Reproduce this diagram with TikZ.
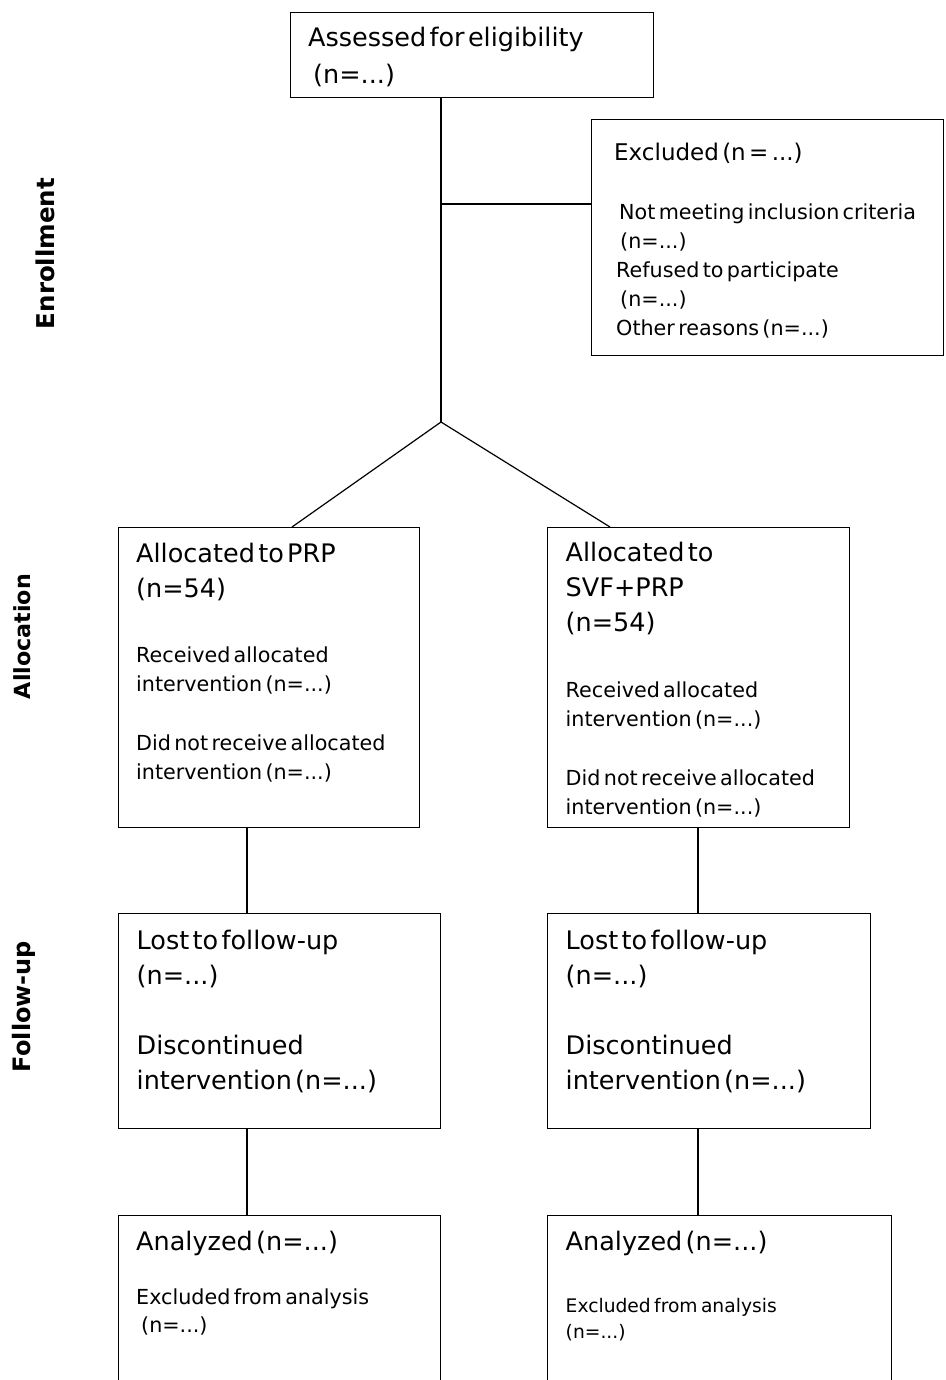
\documentclass[tikz,border=0pt]{standalone}
\usepackage{fontspec}
\setmainfont[WordSpace=1.4]{DejaVu Sans}
\usetikzlibrary{calc}
\newcommand\LT{\fontsize{25.5}{35}\selectfont}
\newcommand\ST{\fontsize{20.7}{29}\selectfont}
\begin{document}
\begin{tikzpicture}[x=1pt,y=-1pt,
  box/.style={draw, line width=1.2pt, inner sep=0pt, anchor=north west},
  txt/.style={anchor=base west, inner sep=0pt, text width=340pt, align=left},
  side/.style={font=\fontsize{#1}{26}\selectfont\bfseries, rotate=90, inner sep=0pt},
  conn/.style={line width=1.2pt}]
\path[use as bounding box] (0,0) rectangle (945,1380);
\clip (0,0) rectangle (945,1380);

% boxes
\node[box, minimum width=363pt, minimum height=85pt] (assess) at (290,12) {};
\node[box, minimum width=352pt, minimum height=236pt] (excl) at (591,119) {};
\node[box, minimum width=301pt, minimum height=300pt] (prp) at (118,527) {};
\node[box, minimum width=302pt, minimum height=300pt] (svf) at (547,527) {};
\node[box, minimum width=322pt, minimum height=215pt] (fl) at (118,913) {};
\node[box, minimum width=323pt, minimum height=215pt] (fr) at (547,913) {};
\node[box, minimum width=322pt, minimum height=200pt] (al) at (118,1215) {};
\node[box, minimum width=344pt, minimum height=200pt] (ar) at (547,1215) {};

% texts
\node[txt] (assessT) at (308,46.7) {\LT\baselineskip=36.5pt Assessed for eligibility\par\hspace*{5pt}(n=...)\par};
\node[txt] (exclT) at (614,160.5) {\fontsize{23}{29}\selectfont Excluded (n = ...)\par\ST\vskip 30.5pt
  \hspace*{5pt}Not meeting inclusion criteria\par
  \hspace*{6pt}(n=...)\par
  \hspace*{2pt}Refused to participate\par
  \hspace*{6pt}(n=...)\par
  \hspace*{2pt}Other reasons (n=...)\par};
\node[txt] (prpT) at (136,562.7) {\LT Allocated to PRP\par (n=54)\par\ST\vskip 36pt
  Received allocated\par intervention (n=...)\par\vskip 30pt
  Did not receive allocated\par intervention (n=...)\par};
\node[txt] (svfT) at (565.5,561.7) {\LT Allocated to\par SVF+PRP\par (n=54)\par\ST\vskip 37pt
  Received allocated\par intervention (n=...)\par\vskip 29.5pt
  Did not receive allocated\par intervention (n=...)\par};
\node[txt] (flT) at (136.5,949) {\LT Lost to follow-up\par (n=...)\par\vskip 35pt
  Discontinued\par intervention (n=...)\par};
\node[txt] (frT) at (565.5,949) {\LT Lost to follow-up\par (n=...)\par\vskip 35pt
  Discontinued\par intervention (n=...)\par};
\node[txt] (alT) at (136,1250) {\LT Analyzed (n=...)\par\ST\vskip 25pt
  Excluded from analysis\par \vskip -1pt\hspace*{5pt}(n=...)\par};
\node[txt] (arT) at (565.5,1250) {\LT Analyzed (n=...)\par\fontsize{18.7}{25.6}\selectfont\vskip 37pt
  Excluded from analysis\par (n=...)\par};

% side labels
\node[side=24.5] (enr) at (45,253.5) {Enrollment};
\node[side=22.2] (alloc) at (22,636.5) {Allocation};
\node[side=24] (fup) at (24,1006.5) {Follow-up};

% connectors
\coordinate (split) at (441,422);
\coordinate (junc) at (441,204);
\draw[conn] ($(assess.south west)+(151,0)$) -- (split);
\draw[conn] (junc) -- (junc -| excl.west);
\draw[conn] (split) -- ($(prp.north west)+(174,0)$);
\draw[conn] (split) -- ($(svf.north west)+(63,0)$);
\draw[conn] ($(prp.south west)+(129,0)$) -- ($(fl.north west)+(129,0)$);
\draw[conn] ($(fl.south west)+(129,0)$) -- ($(al.north west)+(129,0)$);
\draw[conn] ($(svf.south west)+(151,0)$) -- ($(fr.north west)+(151,0)$);
\draw[conn] ($(fr.south west)+(151,0)$) -- ($(ar.north west)+(151,0)$);
\end{tikzpicture}
\end{document}
